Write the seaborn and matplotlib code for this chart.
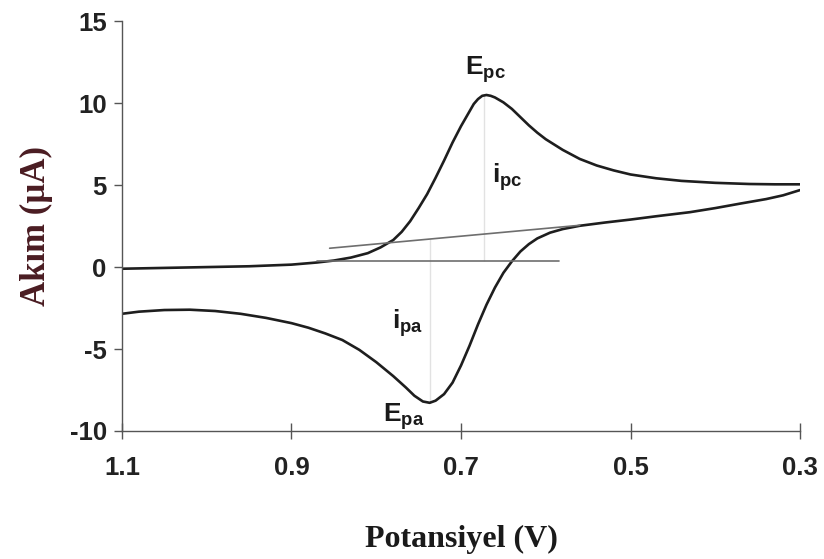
import numpy as np
import pandas as pd
import matplotlib
matplotlib.use("Agg")
import matplotlib.pyplot as plt
import seaborn as sns

# forward sweep (upper branch), 1.1 V -> 0.3 V
fwd_v = [1.10, 1.05, 1.00, 0.95, 0.90, 0.87, 0.85, 0.83, 0.81, 0.795, 0.78,
         0.77, 0.76, 0.75, 0.74, 0.73, 0.72, 0.71, 0.70, 0.69, 0.685, 0.68,
         0.675, 0.670, 0.665, 0.66, 0.65, 0.64, 0.63, 0.62, 0.61, 0.60, 0.58,
         0.56, 0.54, 0.52, 0.50, 0.47, 0.44, 0.40, 0.36, 0.33, 0.30]
fwd_i = [-0.10, -0.05, 0.00, 0.05, 0.15, 0.28, 0.40, 0.58, 0.85, 1.20, 1.65,
         2.15, 2.80, 3.60, 4.45, 5.45, 6.50, 7.60, 8.60, 9.50, 9.95, 10.25,
         10.45, 10.50, 10.45, 10.35, 10.05, 9.65, 9.15, 8.65, 8.20, 7.80, 7.15,
         6.60, 6.20, 5.90, 5.65, 5.42, 5.26, 5.14, 5.07, 5.05, 5.05]

# reverse sweep (lower branch), 0.3 V -> 1.1 V
rev_v = [0.30, 0.32, 0.34, 0.37, 0.40, 0.43, 0.47, 0.50, 0.53, 0.56, 0.58,
         0.595, 0.61, 0.62, 0.63, 0.64, 0.65, 0.66, 0.67, 0.68, 0.69, 0.70,
         0.71, 0.72, 0.73, 0.737, 0.745, 0.755, 0.765, 0.78, 0.80, 0.82, 0.84,
         0.86, 0.88, 0.90, 0.93, 0.96, 0.99, 1.02, 1.05, 1.08, 1.10]
rev_i = [4.70, 4.38, 4.15, 3.88, 3.60, 3.35, 3.10, 2.90, 2.72, 2.52, 2.32,
         2.10, 1.75, 1.40, 0.95, 0.35, -0.35, -1.25, -2.30, -3.50, -4.80, -6.00,
         -7.05, -7.75, -8.15, -8.28, -8.20, -7.85, -7.35, -6.65, -5.80, -5.05, -4.45,
         -4.05, -3.70, -3.42, -3.10, -2.85, -2.68, -2.60, -2.62, -2.72, -2.85]

# construction lines (baselines and peak heights)
base_c_v = [0.870, 0.585]
base_c_i = [0.35, 0.35]
base_a_v = [0.855, 0.560]
base_a_i = [1.15, 2.55]
epc_v, epc_i = 0.673, 10.50
epa_v, epa_i = 0.737, -8.28

xticks = [1.1, 0.9, 0.7, 0.5, 0.3]
yticks = [-10, -5, 0, 5, 10, 15]

sns.set_style("ticks")
plt.rcParams["font.family"] = ["Liberation Sans", "DejaVu Sans"]
plt.rcParams["axes.unicode_minus"] = False
plt.rcParams["mathtext.fontset"] = "custom"
plt.rcParams["mathtext.rm"] = "Liberation Sans"
plt.rcParams["mathtext.bf"] = "Liberation Sans:bold"

fig = plt.figure(figsize=(8.24, 5.59), dpi=100)
ax = fig.add_axes([0.148, 0.229, 0.823, 0.733])

cv = pd.DataFrame({"V": fwd_v + rev_v, "I": fwd_i + rev_i,
                   "branch": ["fwd"] * len(fwd_v) + ["rev"] * len(rev_v)})
sns.lineplot(data=cv, x="V", y="I", units="branch", estimator=None, sort=False,
             color="#1e1e1e", linewidth=1.9, ax=ax,
             solid_joinstyle="round", solid_capstyle="round")

thin = dict(color="#6e6e6e", linewidth=1.2)
slope = (base_a_i[1] - base_a_i[0]) / (base_a_v[1] - base_a_v[0])
epa_base = base_a_i[0] + slope * (epa_v - base_a_v[0])
sns.lineplot(x=base_c_v, y=base_c_i, sort=False, ax=ax, **thin)
sns.lineplot(x=base_a_v, y=base_a_i, sort=False, ax=ax, **thin)
sns.lineplot(x=[epc_v, epc_v], y=[base_c_i[0], epc_i], sort=False, ax=ax, **thin)
sns.lineplot(x=[epa_v, epa_v], y=[epa_base, epa_i], sort=False, ax=ax, **thin)

lab = dict(fontsize=19, color="#1a1a1a", ha="left", va="baseline")
ax.text(0.695, 11.75, r"$\mathbf{E}_{\mathbf{pc}}$", **lab)
ax.text(0.664, 5.15, r"$\mathbf{i}_{\mathbf{pc}}$", **lab)
ax.text(0.781, -3.75, r"$\mathbf{i}_{\mathbf{pa}}$", **lab)
ax.text(0.792, -9.45, r"$\mathbf{E}_{\mathbf{pa}}$", **lab)

ax.set_xlim(1.1, 0.3)
ax.set_ylim(-10, 15)
ax.set_xticks(xticks)
ax.set_xticklabels([f"{t:.1f}" for t in xticks])
ax.set_yticks(yticks)
sns.despine(ax=ax)
for s in ["left", "bottom"]:
    ax.spines[s].set_color("#555555")
    ax.spines[s].set_linewidth(1.0)
ax.tick_params(axis="x", direction="inout", length=12, width=1.0, color="#555555",
               pad=12, labelsize=18.5)
ax.tick_params(axis="y", direction="out", length=6, width=1.0, color="#555555",
               pad=5, labelsize=18.5)
for t in ax.get_xticklabels() + ax.get_yticklabels():
    t.set_fontweight("bold")
    t.set_color("#222222")

ax.set_xlabel("Potansiyel (V)", fontsize=23, fontweight="bold",
              family="Liberation Serif", color="#1a1a1a", labelpad=32)
ax.set_ylabel("Akım (µA)", fontsize=25, fontweight="bold",
              family="Liberation Serif", color="#4a1c22", labelpad=12)

fig.savefig("out.png", dpi=100)
